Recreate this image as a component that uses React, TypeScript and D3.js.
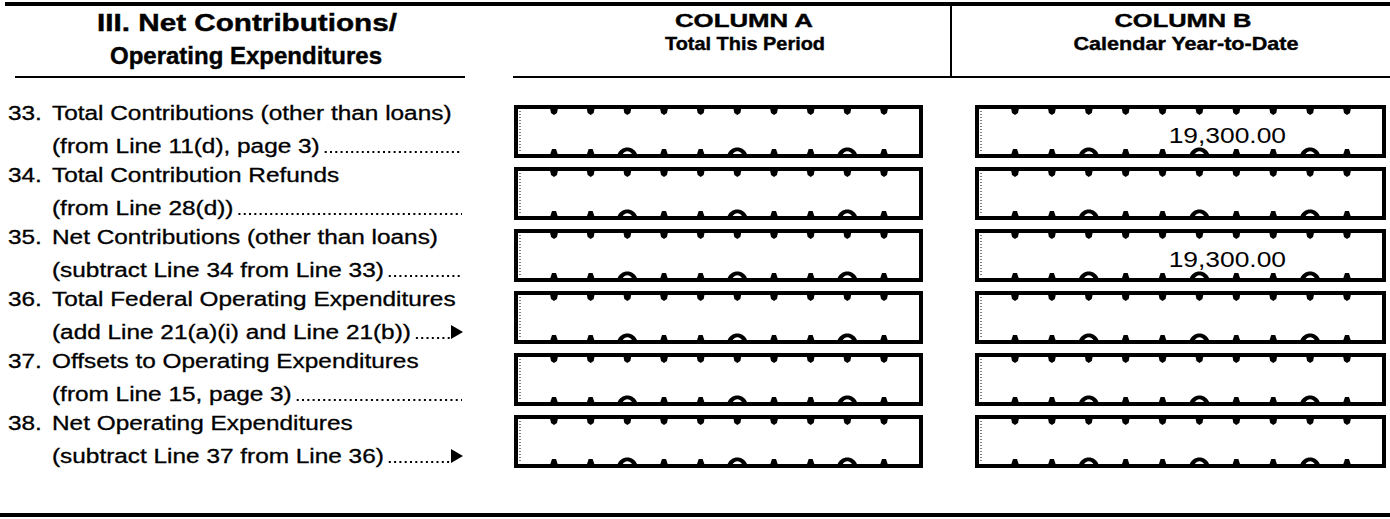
import { useEffect, useRef } from 'react'
import { scaleLinear, scalePoint, select } from 'd3'

const lineNumbers = ['33.', '34.', '35.', '36.', '37.', '38.']
const firstLines = [
  'Total Contributions (other than loans)',
  'Total Contribution Refunds',
  'Net Contributions (other than loans)',
  'Total Federal Operating Expenditures',
  'Offsets to Operating Expenditures',
  'Net Operating Expenditures',
]
const secondLines = [
  '(from Line 11(d), page 3)',
  '(from Line 28(d))',
  '(subtract Line 34 from Line 33)',
  '(add Line 21(a)(i) and Line 21(b))',
  '(from Line 15, page 3)',
  '(subtract Line 37 from Line 36)',
]
const arrowRows = [false, false, false, true, false, true]
const columnAValues = ['', '', '', '', '', '']
const columnBValues = ['19,300.00', '', '19,300.00', '', '', '']
const digitSlots = [0, 1, 2, 3, 4, 5, 6, 7, 8, 9]
const commaSlots = [2, 5, 8]
const sectionTitle = ['III. Net Contributions/', 'Operating Expenditures']
const columnTitles = [
  ['COLUMN A', 'Total This Period'],
  ['COLUMN B', 'Calendar Year-to-Date'],
]

const dims = { width: 1390, height: 519, boxHeight: 53 }
const font = '"Liberation Sans", Arial, Helvetica, sans-serif'

const Form = () => {
  const ref = useRef<SVGSVGElement | null>(null)

  useEffect(() => {
    const svg = select(ref.current)
    svg.selectAll('*').remove()

    const rowY = scalePoint<string>().domain(lineNumbers).range([105, 415])
    const columns = [
      { x0: 514, x1: 923, values: columnAValues },
      { x0: 975, x1: 1386, values: columnBValues },
    ]

    // rules
    svg.append('rect').attr('x', 5).attr('y', 2).attr('width', 1385).attr('height', 4).attr('fill', '#000')
    svg.append('rect').attr('x', 0).attr('y', 513).attr('width', 1390).attr('height', 4).attr('fill', '#000')
    svg.append('line').attr('x1', 15).attr('x2', 465).attr('y1', 77).attr('y2', 77)
      .attr('stroke', '#000').attr('stroke-width', 2)
    svg.append('line').attr('x1', 513).attr('x2', 1390).attr('y1', 77).attr('y2', 77)
      .attr('stroke', '#000').attr('stroke-width', 2)
    svg.append('line').attr('x1', 951).attr('x2', 951).attr('y1', 6).attr('y2', 78)
      .attr('stroke', '#000').attr('stroke-width', 2)

    // headers
    const headers = [
      { text: sectionTitle[0], x: 247, y: 31, w: 300, size: 23 },
      { text: sectionTitle[1], x: 246, y: 64, w: 272, size: 23 },
      { text: columnTitles[0][0], x: 744, y: 27, w: 138, size: 19 },
      { text: columnTitles[0][1], x: 745, y: 50, w: 160, size: 19 },
      { text: columnTitles[1][0], x: 1183, y: 27, w: 137, size: 19 },
      { text: columnTitles[1][1], x: 1186, y: 50, w: 225, size: 19 },
    ]
    svg.append('g').selectAll('text').data(headers).enter().append('text')
      .attr('x', d => d.x).attr('y', d => d.y)
      .attr('text-anchor', 'middle')
      .attr('textLength', d => d.w).attr('lengthAdjust', 'spacingAndGlyphs')
      .attr('font-family', font).attr('font-weight', 'bold').attr('font-size', d => d.size)
      .attr('stroke', '#000').attr('stroke-width', 0.4)
      .text(d => d.text)

    // row labels
    const stretch = 1.25
    lineNumbers.forEach((num, i) => {
      const top = rowY(num)!
      const g = svg.append('g')
      const label = (x: number, y: number, t: string) =>
        g.append('text')
          .attr('transform', `translate(${x},${y}) scale(${stretch},1)`)
          .attr('font-family', font).attr('font-size', 19.5)
          .attr('stroke', '#000').attr('stroke-width', 0.3)
          .text(t)
      label(8, top + 15, num)
      label(52, top + 15, firstLines[i])
      const second = label(52, top + 48, secondLines[i])
      const w = (second.node() as SVGTextElement).getComputedTextLength() * stretch
      const endX = arrowRows[i] ? 450 : 462
      g.append('line')
        .attr('x1', 52 + w + 5).attr('x2', endX)
        .attr('y1', top + 47).attr('y2', top + 47)
        .attr('stroke', '#000').attr('stroke-width', 2.2)
        .attr('stroke-dasharray', '2 3.3')
      if (arrowRows[i]) {
        g.append('path')
          .attr('d', `M${451},${top + 34} L${463},${top + 41} L${451},${top + 48} Z`)
          .attr('fill', '#000')
      }
    })

    // entry boxes
    columns.forEach(col => {
      const slotX = scaleLinear().domain([0, 9]).range([col.x0 + 40, col.x1 - 39])
      lineNumbers.forEach((num, i) => {
        const top = rowY(num)!
        const bottom = top + dims.boxHeight
        const g = svg.append('g')
        g.append('rect')
          .attr('x', col.x0 + 2).attr('y', top + 2)
          .attr('width', col.x1 - col.x0 - 4).attr('height', dims.boxHeight - 4)
          .attr('fill', 'none').attr('stroke', '#000').attr('stroke-width', 4)
        g.append('line')
          .attr('x1', col.x0 + 6).attr('x2', col.x0 + 6)
          .attr('y1', top + 6).attr('y2', bottom - 6)
          .attr('stroke', '#000').attr('stroke-width', 1).attr('stroke-dasharray', '1 2')
        g.selectAll('path.top').data(digitSlots).enter().append('path')
          .attr('class', 'top')
          .attr('d', d => {
            const x = slotX(d)
            return `M${x - 4},${top + 3} L${x + 4},${top + 3} L${x + 3},${top + 8} L${x},${top + 10} L${x - 3},${top + 8} Z`
          })
          .attr('fill', '#000')
        g.selectAll('path.bot').data(digitSlots).enter().append('path')
          .attr('class', 'bot')
          .attr('d', d => {
            const x = slotX(d)
            if (commaSlots.includes(d)) {
              return `M${x - 10},${bottom - 3} C${x - 7},${bottom - 13} ${x + 7},${bottom - 13} ${x + 10},${bottom - 3} L${x + 5},${bottom - 3} C${x + 3},${bottom - 8} ${x - 3},${bottom - 8} ${x - 5},${bottom - 3} Z`
            }
            return `M${x - 4},${bottom - 3} L${x + 4},${bottom - 3} L${x + 2},${bottom - 9} L${x - 2},${bottom - 9} Z`
          })
          .attr('fill', '#000')
        if (col.values[i]) {
          g.append('text')
            .attr('transform', `translate(${col.x1 - 100},${top + 38}) scale(1.2,1)`)
            .attr('text-anchor', 'end')
            .attr('font-family', font).attr('font-size', 22)
            .text(col.values[i])
        }
      })
    })
  }, [])

  return (
    <svg ref={ref} width={dims.width} height={dims.height}
      style={{ position: 'absolute', left: 0, top: 0, background: '#fff' }} />
  )
}

export default function App() {
  return <Form />
}
